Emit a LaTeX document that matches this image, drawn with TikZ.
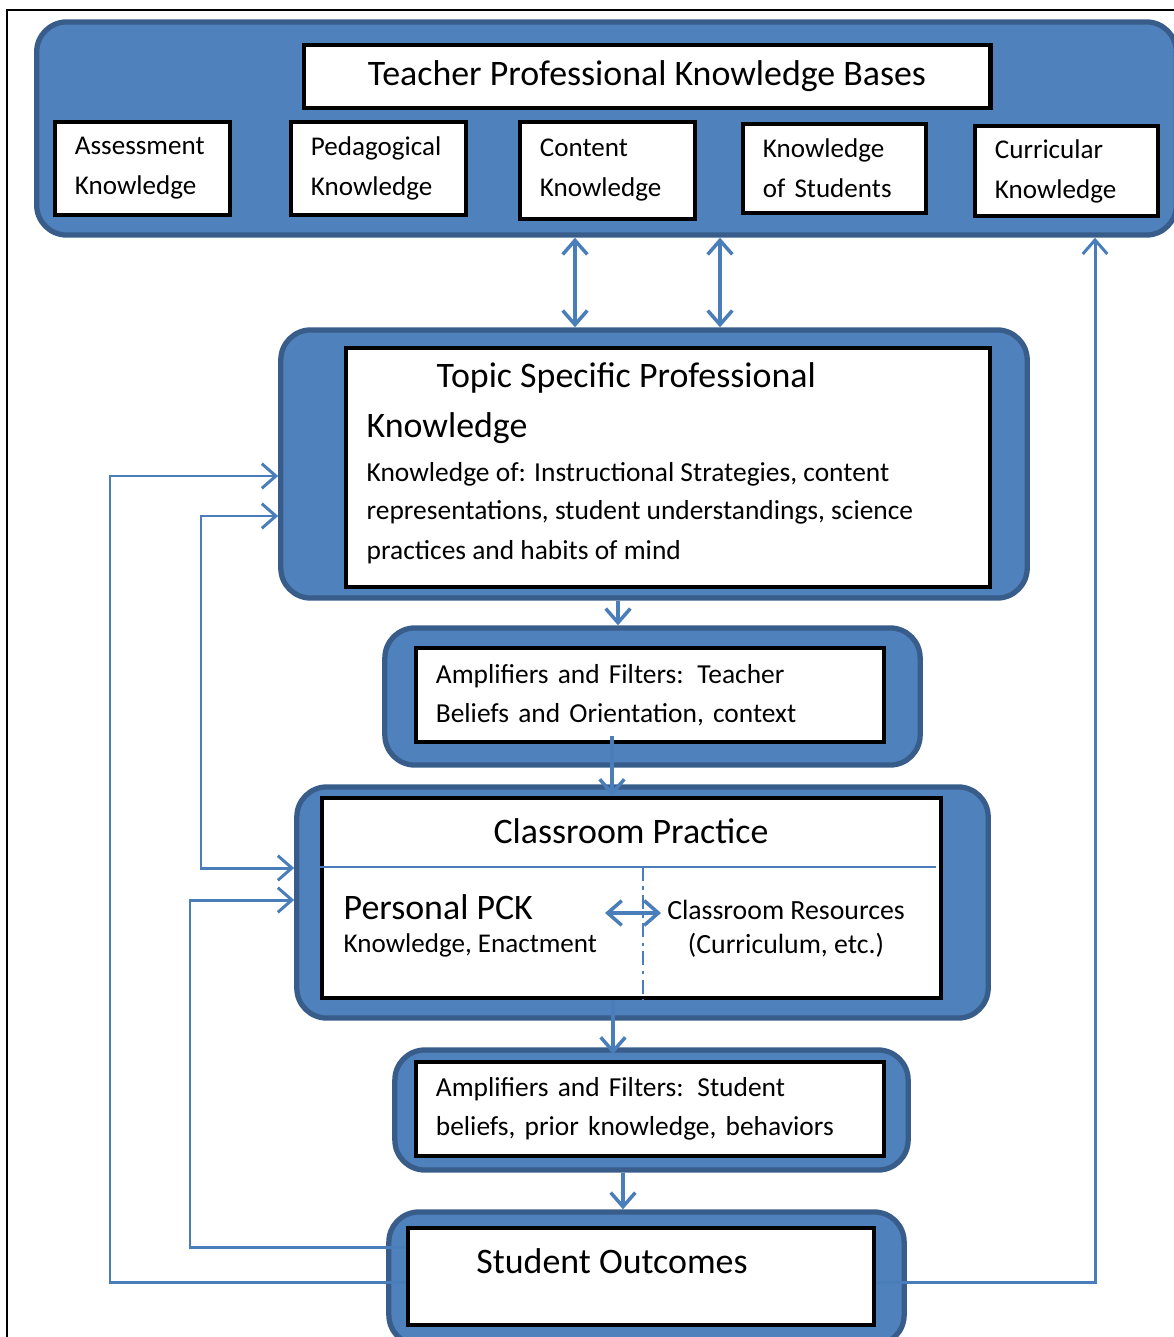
\documentclass[tikz,border=0pt]{standalone}
\usepackage{fontspec}
\setmainfont{Carlito}
\usepackage{tikz}
\usetikzlibrary{arrows.meta,positioning,calc}
\definecolor{pblue}{HTML}{4F81BD}
\definecolor{pdark}{HTML}{385D8A}
\definecolor{parrow}{HTML}{4A7EBB}
\newcommand{\bigtxt}{\fontsize{10.2}{12}\selectfont}
\newcommand{\smalltxt}{\fontsize{7.7}{11.4}\selectfont}

\begin{document}
\begin{tikzpicture}[x=0.01cm, y=-0.01cm,
    container/.style={draw=pdark, fill=pblue, line width=1.5pt, rounded corners=0.3cm},
    whitebox/.style={draw=black, fill=white, line width=1.1pt, inner sep=0pt},
    labelbox/.style={whitebox, align=left, inner xsep=0.2cm, text width=#1, minimum height=0.93cm, font=\smalltxt},
    ampbox/.style={whitebox, align=left, inner xsep=0.2cm, text width=4.28cm, minimum height=0.94cm, font=\fontsize{7.8}{11}\selectfont},
    arr/.style={draw=parrow, line width=1pt, -{Straight Barb[length=4pt,width=7pt]}},
    dblarr/.style={draw=parrow, line width=1pt, {Straight Barb[length=4pt,width=7pt]}-{Straight Barb[length=4pt,width=7pt]}},
    fbline/.style={draw=parrow, line width=0.85pt}
]
    \useasboundingbox (0,0) rectangle (1174,1337);
    \draw[line width=0.4pt] (7,10) rectangle (1190,1360);

    % Knowledge bases
    \node[container, minimum width=11.39cm, minimum height=2.13cm] (topbar) at (606.5,128.5) {};
    \node[whitebox, line width=1.3pt, minimum width=6.86cm, minimum height=0.63cm, font=\bigtxt] (title) at (647,76.5) {Teacher Professional Knowledge Bases};
    \node[labelbox=1.35cm] (assess) at (142.5,168.5) {Assessment\\Knowledge};
    \node[labelbox=1.35cm] (pedag) at (378.5,168.5) {Pedagogical\\Knowledge};
    \node[labelbox=1.35cm, minimum height=0.97cm] (content) at (607.5,170.5) {Content\\Knowledge};
    \node[labelbox=1.43cm, minimum height=0.89cm] (students) at (834.5,168.5) {Knowledge\\of Students};
    \node[labelbox=1.43cm, minimum height=0.90cm] (curric) at (1066.5,171) {Curricular\\Knowledge};

    % Topic specific knowledge
    \node[container, minimum width=7.46cm, minimum height=2.68cm] (topic) at (654,464) {};
    \node[whitebox, minimum width=6.44cm, minimum height=2.39cm] (topicin) at (668,467.5) {};
    \node[anchor=west, font=\bigtxt, inner sep=0pt] (topichead) at (436,378) {Topic Specific Professional};
    \node[anchor=west, font=\bigtxt, inner sep=0pt] (topichead2) at (366,428) {Knowledge};
    \node[anchor=west, font=\fontsize{7.8}{11}\selectfont, inner sep=0pt] (topicl1) at (366,474) {Knowledge of: Instructional Strategies, content};
    \node[anchor=west, font=\fontsize{7.8}{11}\selectfont, inner sep=0pt] (topicl2) at (366,512) {representations, student understandings, science};
    \node[anchor=west, font=\fontsize{7.8}{11}\selectfont, inner sep=0pt] (topicl3) at (366,552) {practices and habits of mind};

    % Teacher filters
    \node[container, minimum width=5.35cm, minimum height=1.37cm] (amp1) at (652.5,696.5) {};
    \node[ampbox] (amp1in) at (650,695) {Amplifiers and Filters: Teacher\\Beliefs and Orientation, context};

    % Classroom practice
    \node[container, minimum width=6.91cm, minimum height=2.31cm] (crbox) at (642.5,902.5) {};
    \node[whitebox, minimum width=6.19cm, minimum height=2.0cm] (crin) at (631.5,898) {};
    \draw[draw=parrow, line width=0.7pt] (crin.west |- 0,867) -- (936,867);
    \draw[draw=parrow, line width=0.5pt, dash pattern=on 4pt off 1.5pt on 1pt off 1.5pt] (643,867) -- (crin.south -| 643,0);
    \node[font=\bigtxt, inner sep=0pt] (crhead) at (631,831) {Classroom Practice};
    \node[anchor=west, font=\bigtxt, inner sep=0pt] (pck) at (343,907) {Personal PCK};
    \node[anchor=west, font=\fontsize{7.7}{11}\selectfont, inner sep=0pt] (pck2) at (343,945) {Knowledge, Enactment};
    \node[font=\fontsize{7.9}{11}\selectfont, inner sep=0pt] (res) at (786,910) {Classroom Resources};
    \node[font=\fontsize{7.9}{11}\selectfont, inner sep=0pt] (res2) at (786,945) {(Curriculum, etc.)};
    \coordinate (pckL) at (605,913);
    \coordinate (pckR) at (661,913);
    \draw[dblarr] (pckL) -- (pckR);

    % Student filters and outcomes
    \node[container, minimum width=5.13cm, minimum height=1.20cm] (amp2) at (651.5,1110) {};
    \node[ampbox] (amp2in) at (650,1109) {Amplifiers and Filters: Student\\beliefs, prior knowledge, behaviors};
    \node[container, minimum width=5.15cm, minimum height=1.33cm] (stud) at (646.5,1278.5) {};
    \node[whitebox, minimum width=4.66cm, minimum height=0.97cm] (studin) at (641,1276.5) {};
    \node[font=\bigtxt, inner sep=0pt] (studhead) at (612,1261) {Student Outcomes};

    % Main flow
    \draw[dblarr] (topbar.south -| 575,0) -- (topic.north -| 575,0);
    \draw[dblarr] (topbar.south -| 720,0) -- (topic.north -| 720,0);
    \draw[arr] (topic.south -| 618,0) -- (amp1.north -| 618,0);
    \draw[arr] ($(amp1in.south -| 612,0)+(0,-8)$) -- (crin.north -| 612,0);
    \draw[arr] (crin.south -| 613,0) -- ($(amp2in.north -| 613,0)+(0,-6)$);
    \draw[arr] (amp2.south -| 623,0) -- (stud.north -| 623,0);

    % Feedback loops
    \draw[fbline, arr, line width=0.85pt] (studin.west |- 0,1282) -| (110,476) -- (topic.west |- 0,476);
    \draw[fbline, arr, line width=0.85pt] (studin.west |- 0,1247) -| (190,900) -- (crbox.west |- 0,900);
    \draw[fbline, dblarr, line width=0.85pt] (topic.west |- 0,516) -| (201,868) -- (crbox.west |- 0,868);
    \draw[fbline, arr, line width=0.85pt] (studin.east |- 0,1282) -| (topbar.south -| 1095,0);
\end{tikzpicture}
\end{document}
